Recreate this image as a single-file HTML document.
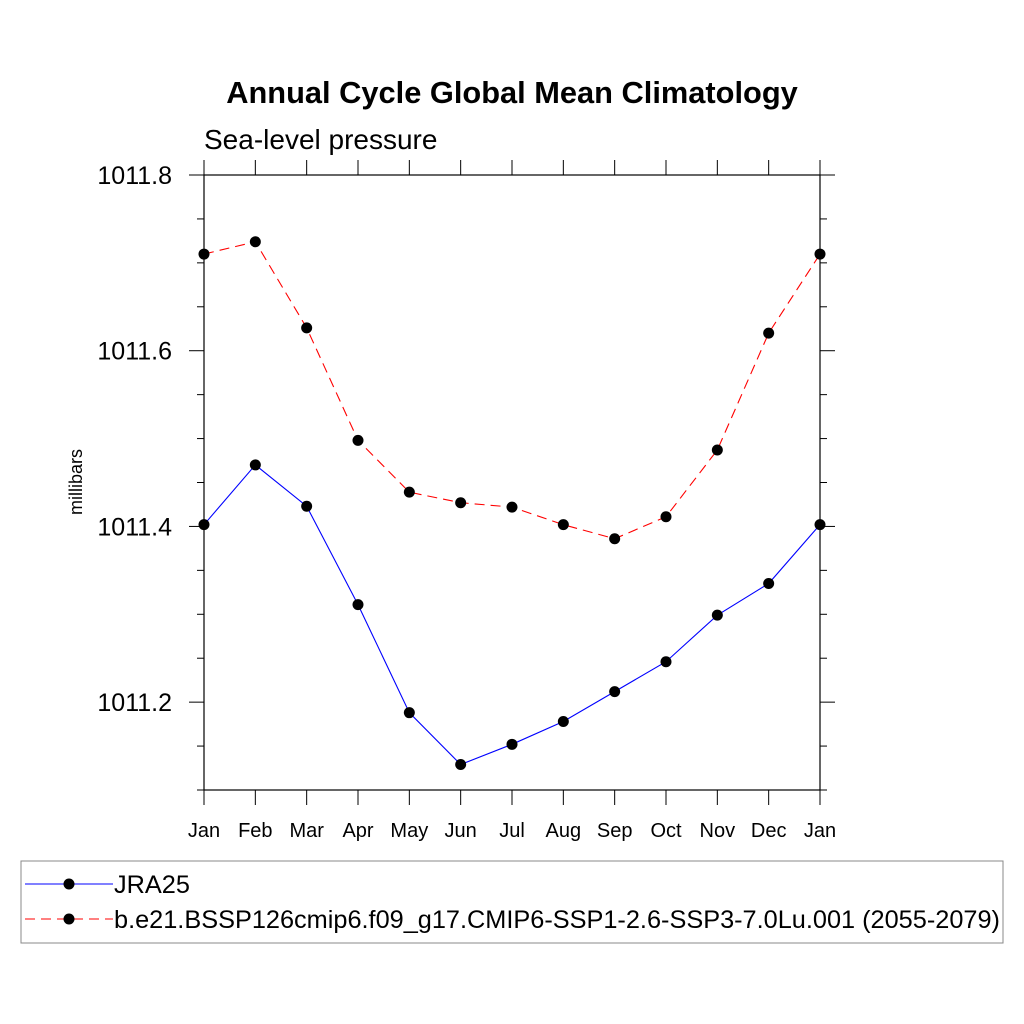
<!DOCTYPE html>
<html><head><meta charset="utf-8"><style>body{margin:0;background:#fff}svg{display:block;font-family:"Liberation Sans",sans-serif}</style></head>
<body>
<svg id="c" width="1024" height="1024">
<text x="512" y="103" text-anchor="middle" font-size="30.8" font-weight="bold">Annual Cycle Global Mean Climatology</text>
<text x="204" y="149" font-size="28">Sea-level pressure</text>
<text transform="translate(82,482) rotate(-90)" text-anchor="middle" font-size="18">millibars</text>
<g id="axes"></g><g id="series"></g>
<rect x="21" y="861" width="982" height="82" fill="none" stroke="#888" stroke-width="1"/>
<g>
<line x1="25" y1="884" x2="113" y2="884" stroke="#00f" stroke-width="1"/><circle cx="69" cy="884" r="5.5"/>
<text x="114" y="893" font-size="25.3">JRA25</text></g>
<g>
<line x1="25" y1="919" x2="113" y2="919" stroke="#f00" stroke-width="1" stroke-dasharray="10,6"/><circle cx="69" cy="919" r="5.5"/>
<text x="114" y="928" font-size="25.3">b.e21.BSSP126cmip6.f09_g17.CMIP6-SSP1-2.6-SSP3-7.0Lu.001 (2055-2079)</text></g>
</svg>
<script>
const months=["Jan","Feb","Mar","Apr","May","Jun","Jul","Aug","Sep","Oct","Nov","Dec","Jan"];
const jra25=[1011.402,1011.470,1011.423,1011.311,1011.188,1011.129,1011.152,1011.178,1011.212,1011.246,1011.299,1011.335,1011.402];
const cesm=[1011.710,1011.724,1011.626,1011.498,1011.439,1011.427,1011.422,1011.402,1011.386,1011.411,1011.487,1011.620,1011.710];
const yTicks=[1011.2,1011.4,1011.6,1011.8];
const yMin=1011.1,yMax=1011.8;
const L=204,R=820,T=175,B=790;
const xs=i=>L+(R-L)*i/(months.length-1);
const ys=v=>B-(v-yMin)/(yMax-yMin)*(B-T);
const NS="http://www.w3.org/2000/svg";
function mk(t,a,p){const e=document.createElementNS(NS,t);for(const k in a)e.setAttribute(k,a[k]);p.appendChild(e);return e;}
const ax=document.getElementById('axes');
const box=mk('rect',{x:L,y:T,width:R-L,height:B-T,fill:'none',stroke:'#000','stroke-width':1.2},ax);


months.forEach((m,i)=>{const x=xs(i);
 mk('line',{x1:x,y1:B,x2:x,y2:B+15,stroke:'#000'},ax);
 mk('line',{x1:x,y1:T,x2:x,y2:T-15,stroke:'#000'},ax);
 const t=mk('text',{x:x,y:837,'text-anchor':'middle','font-size':20},ax);t.textContent=m;
 
 });
for(let v=yMin;v<=yMax+1e-6;v+=0.05){const y=ys(v);const major=yTicks.some(t=>Math.abs(t-v)<1e-6);const l=major?15:7;
 mk('line',{x1:L,y1:y,x2:L-l,y2:y,stroke:'#000'},ax);mk('line',{x1:R,y1:y,x2:R+l,y2:y,stroke:'#000'},ax);}
yTicks.forEach(v=>{const t=mk('text',{x:172,y:ys(v)+9,'text-anchor':'end','font-size':25},ax);t.textContent=v.toFixed(1);
 
 });
const sg=document.getElementById('series');
function draw(vals,col,dash,name){const g=mk('g',{},sg);
 
 
 mk('polyline',{points:vals.map((v,i)=>xs(i)+','+ys(v)).join(' '),fill:'none',stroke:col,'stroke-width':1.1,'stroke-dasharray':dash},g);
 vals.forEach((v,i)=>{const c=mk('circle',{cx:xs(i),cy:ys(v),r:5.5},g);
 
 });}
draw(cesm,'#f00','10,6','series-cesm');
draw(jra25,'#00f','none','series-jra25');
</script>
</body></html>
